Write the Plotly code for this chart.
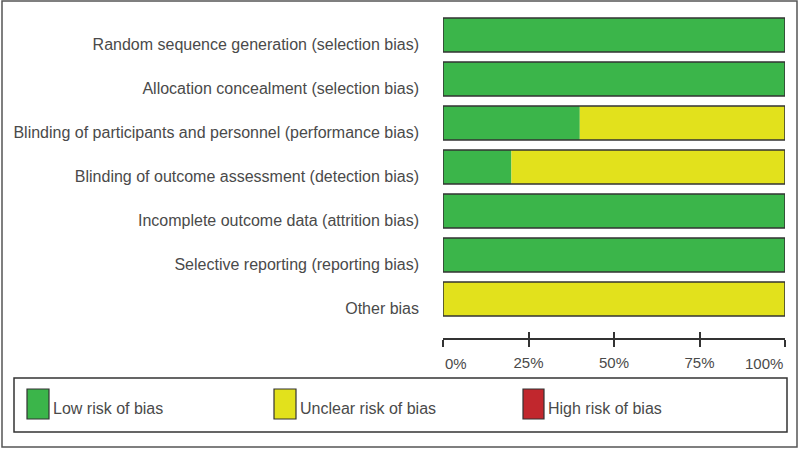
import plotly.graph_objects as go

categories = [
    "Random sequence generation (selection bias)",
    "Allocation concealment (selection bias)",
    "Blinding of participants and personnel (performance bias)",
    "Blinding of outcome assessment (detection bias)",
    "Incomplete outcome data (attrition bias)",
    "Selective reporting (reporting bias)",
    "Other bias",
]
low_risk = [100, 100, 40, 20, 100, 100, 0]
unclear_risk = [0, 0, 60, 80, 0, 0, 100]
high_risk = [0, 0, 0, 0, 0, 0, 0]
tick_vals = [0, 25, 50, 75, 100]
tick_labels = ["0%", "25%", "50%", "75%", "100%"]
legend_names = ["Low risk of bias", "Unclear risk of bias", "High risk of bias"]

GREEN = "#3bb54a"
YELLOW = "#e2e11c"
RED = "#c1272d"
EDGE = "#333333"
TEXT = "#4a4a4a"
FONT = "Liberation Sans, Arial, sans-serif"

W, H = 800, 449
L, R, T, B = 443, 785, 13, 338  # plot area in pixels


def px(xp):
    return (xp - L) / (R - L)


def py(yp):
    return (B - yp) / (B - T)


base_unclear = [a for a in low_risk]
base_high = [a + b for a, b in zip(low_risk, unclear_risk)]
totals = [a + b + c for a, b, c in zip(low_risk, unclear_risk, high_risk)]

fig = go.Figure()
fig.add_bar(y=categories, x=low_risk, base=[0] * len(categories), orientation="h",
            marker=dict(color=GREEN, line=dict(width=0)), width=0.77, showlegend=False)
fig.add_bar(y=categories, x=unclear_risk, base=base_unclear, orientation="h",
            marker=dict(color=YELLOW, line=dict(width=0)), width=0.77, showlegend=False)
fig.add_bar(y=categories, x=high_risk, base=base_high, orientation="h",
            marker=dict(color=RED, line=dict(width=0)), width=0.77, showlegend=False)
fig.add_bar(y=categories, x=totals, base=[0] * len(categories), orientation="h",
            marker=dict(color="rgba(0,0,0,0)", line=dict(color=EDGE, width=1.5)),
            width=0.77, showlegend=False)

# second axis to draw ticks above the axis line
fig.add_scatter(x=[0, 100], y=[categories[0], categories[0]], xaxis="x2",
                mode="markers", marker=dict(opacity=0), showlegend=False, hoverinfo="skip")

pitch = 44
fig.update_layout(
    width=W, height=H,
    margin=dict(l=L, r=W - R, t=T, b=H - B),
    paper_bgcolor="white", plot_bgcolor="white",
    barmode="overlay",
    font=dict(family=FONT, size=16, color=TEXT),
    xaxis=dict(range=[0, 100], tickvals=tick_vals,
               ticktext=["", "25%", "50%", "75%", ""],
               showgrid=False, zeroline=False, showline=True, linecolor=EDGE, linewidth=1.5,
               ticks="outside", ticklen=7, tickwidth=1.5, tickcolor=EDGE,
               ticklabelstandoff=3,
               tickfont=dict(size=15, color=TEXT), fixedrange=True),
    xaxis2=dict(range=[0, 100], overlaying="x", side="bottom", anchor="y",
                tickvals=tick_vals, showticklabels=False, showgrid=False, zeroline=False,
                showline=False, ticks="inside", ticklen=6, tickwidth=1.5, tickcolor=EDGE),
    yaxis=dict(type="category", categoryorder="array", categoryarray=categories,
               range=[(B - T) / pitch - 0.5, -0.5],
               showgrid=False, zeroline=False, showline=False, ticks="",
               ticklabelstandoff=23, ticklabelshift=-9,
               tickfont=dict(size=16, color=TEXT)),
)

# end tick labels aligned inward, as in the reference
for i, anchor in ((0, "left"), (-1, "right")):
    fig.add_annotation(x=tick_vals[i], y=0, xref="x", yref="paper", yanchor="top",
                       xanchor=anchor, text=tick_labels[i], showarrow=False, yshift=-15,
                       font=dict(size=15, color=TEXT))

# outer frame
fig.add_shape(type="rect", xref="paper", yref="paper",
              x0=px(2), x1=px(797), y0=py(447), y1=py(1),
              line=dict(color="#555555", width=1.5), fillcolor="rgba(0,0,0,0)", layer="below")
# legend box
fig.add_shape(type="rect", xref="paper", yref="paper",
              x0=px(14), x1=px(787), y0=py(432), y1=py(378),
              line=dict(color=EDGE, width=1.5), fillcolor="rgba(0,0,0,0)")

swatches = [(27, 49, GREEN), (274, 296, YELLOW), (523, 544, RED)]
for (x0, x1, col), name in zip(swatches, legend_names):
    fig.add_shape(type="rect", xref="paper", yref="paper",
                  x0=px(x0), x1=px(x1), y0=py(419), y1=py(389),
                  line=dict(color=EDGE, width=1.2), fillcolor=col)
    fig.add_annotation(x=px(x1 + 2), y=py(408), xref="paper", yref="paper",
                       xanchor="left", yanchor="middle", text=name, showarrow=False,
                       font=dict(size=16, color=TEXT))

fig.write_html("out.html", config={"displayModeBar": False},
               post_script="document.body.style.margin='0';")
